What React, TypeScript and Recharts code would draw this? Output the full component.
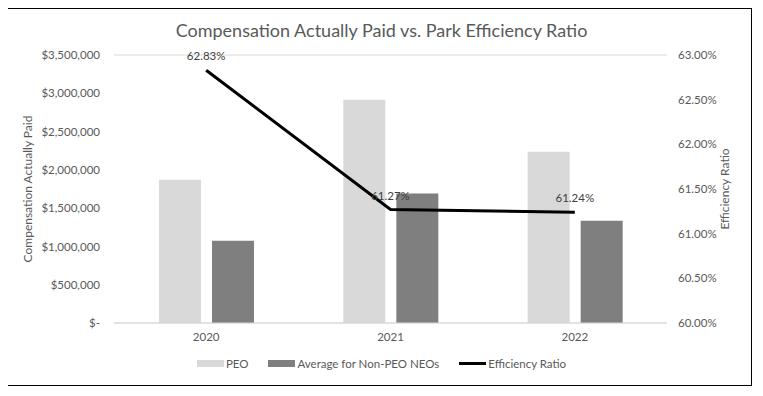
import React from 'react'
import { ComposedChart, Bar, Line, XAxis, YAxis, CartesianGrid, LabelList } from 'recharts'

const years = ['2020', '2021', '2022']
const peoPaid = [1870000, 2915000, 2235000]
const nonPeoPaid = [1075000, 1690000, 1335000]
const efficiencyRatio = [62.83, 61.27, 61.24]

const moneyTicks = [0, 500000, 1000000, 1500000, 2000000, 2500000, 3000000, 3500000]
const ratioTicks = [60, 60.5, 61, 61.5, 62, 62.5, 63]

const data = years.map((year, i) => ({
    year,
    peo: peoPaid[i],
    nonPeo: nonPeoPaid[i],
    ratio: efficiencyRatio[i],
}))

const font = 'Lato, "Open Sans", sans-serif'
const tickStyle = { fontSize: 11.5, fill: '#595959', fontFamily: font }

const fmtMoney = (v: number) => (v === 0 ? '$-' : '$' + v.toLocaleString('en-US'))
const fmtPct = (v: number) => v.toFixed(2) + '%'

function LegendBox() {
    const items = [
        { label: 'PEO', color: '#d9d9d9', line: false },
        { label: 'Average for Non-PEO NEOs', color: '#7f7f7f', line: false },
        { label: 'Efficiency Ratio', color: '#000000', line: true },
    ]
    return (
        <div style={{ display: 'flex', justifyContent: 'center', gap: 20, fontFamily: font, fontSize: 11.5, color: '#595959' }}>
            {items.map(it => (
                <div key={it.label} style={{ display: 'flex', alignItems: 'center' }}>
                    <span
                        style={{
                            display: 'inline-block',
                            width: 27,
                            height: it.line ? 3 : 7,
                            background: it.color,
                            marginRight: 2,
                        }}
                    />
                    {it.label}
                </div>
            ))}
        </div>
    )
}

export default function App() {
    return (
        <div style={{ position: 'relative', width: 763, height: 396, margin: -8, background: '#fff' }}>
            <div
                style={{
                    position: 'absolute',
                    left: 6,
                    top: 8,
                    width: 744,
                    height: 376,
                    border: '1.5px solid #000',
                }}
            />
            <div
                style={{
                    position: 'absolute',
                    top: 19,
                    width: 763,
                    textAlign: 'center',
                    fontFamily: font,
                    fontSize: 18,
                    color: '#595959',
                }}
            >
                Compensation Actually Paid vs. Park Efficiency Ratio
            </div>
            <div style={{ position: 'absolute', left: 0, top: 0 }}>
                <ComposedChart
                    width={763}
                    height={396}
                    data={data}
                    margin={{ top: 55, right: 30, bottom: 43, left: 28 }}
                    barSize={42}
                    barGap={11}
                >
                    <CartesianGrid vertical={false} stroke="#d9d9d9" />
                    <XAxis
                        dataKey="year"
                        tick={tickStyle}
                        tickLine={false}
                        axisLine={{ stroke: '#d9d9d9' }}
                        height={30}
                        tickMargin={4}
                    />
                    <YAxis
                        yAxisId="money"
                        domain={[0, 3500000]}
                        ticks={moneyTicks}
                        tickFormatter={fmtMoney}
                        tick={tickStyle}
                        tickLine={false}
                        axisLine={false}
                        width={86}
                        tickMargin={8}
                        label={{
                            value: 'Compensation Actually Paid',
                            angle: -90,
                            position: 'insideLeft',
                            offset: 0,
                            style: { textAnchor: 'middle', fontSize: 12, fill: '#595959', fontFamily: font },
                        }}
                    />
                    <YAxis
                        yAxisId="ratio"
                        orientation="right"
                        domain={[60, 63]}
                        ticks={ratioTicks}
                        tickFormatter={fmtPct}
                        tick={tickStyle}
                        tickLine={false}
                        axisLine={false}
                        width={66}
                        tickMargin={5}
                        label={{
                            value: 'Efficiency Ratio',
                            angle: -90,
                            position: 'insideRight',
                            offset: 8,
                            style: { textAnchor: 'middle', fontSize: 12, fill: '#595959', fontFamily: font },
                        }}
                    />
                    <Bar yAxisId="money" dataKey="peo" name="PEO" fill="#d9d9d9" isAnimationActive={false} />
                    <Bar yAxisId="money" dataKey="nonPeo" name="Average for Non-PEO NEOs" fill="#7f7f7f" isAnimationActive={false} />
                    <Line
                        yAxisId="ratio"
                        dataKey="ratio"
                        name="Efficiency Ratio"
                        stroke="#000"
                        strokeWidth={3}
                        dot={false}
                        isAnimationActive={false}
                    >
                        <LabelList
                            dataKey="ratio"
                            position="top"
                            offset={10}
                            formatter={(v: number) => fmtPct(v)}
                            style={{ fontSize: 11.5, fill: '#404040', fontFamily: font }}
                        />
                    </Line>
                </ComposedChart>
            </div>
            <div style={{ position: 'absolute', left: 0, top: 357, width: 763 }}>
                <LegendBox />
            </div>
        </div>
    )
}
